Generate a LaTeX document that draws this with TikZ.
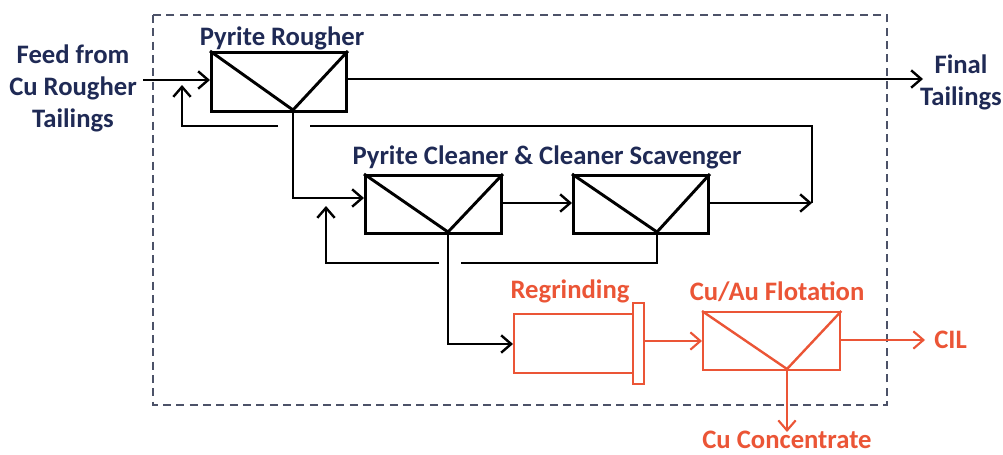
\documentclass[tikz,border=0pt]{standalone}
\usepackage{fontspec}
\setmainfont{Carlito}
\usetikzlibrary{arrows.meta,calc}
\definecolor{navy}{HTML}{1F2A55}
\definecolor{flot}{HTML}{EB5536}
\definecolor{frame}{HTML}{4C5268}
\tikzset{
  cell/.style={draw, rectangle, line width=2.2pt, inner sep=0pt},
  flow/.style={line width=2.2pt, -{Straight Barb[length=7.5pt,width=13pt,line width=1.8pt]}},
  pipe/.style={line width=2.2pt},
  lbl/.style={font=\bfseries\fontsize{20}{24}\selectfont, text=navy, inner sep=0pt},
  olbl/.style={font=\bfseries\fontsize{20}{24}\selectfont, text=flot, inner sep=0pt},
  ocell/.style={draw=flot, line width=1.8pt, rectangle, inner sep=0pt},
  oflow/.style={flot, line width=1.8pt, -{Straight Barb[length=7.5pt,width=13pt,line width=1.6pt]}},
}
\begin{document}
\begin{tikzpicture}[x=0.75pt,y=-0.75pt]
\useasboundingbox (0,0) rectangle (1003,454);

% boundary of the pyrite circuit
\draw[frame, line width=1.7pt, dash pattern=on 6pt off 4pt] (153,15) rectangle (887,405);

% flotation cells: rectangle with a V to the concentrate outlet
\node[cell, minimum width=101.25pt, minimum height=44.25pt, anchor=north west] (rough) at (210,51) {};
\node[cell, minimum width=102pt, minimum height=43.5pt, anchor=north west] (clean) at (364,174) {};
\node[cell, minimum width=101.25pt, minimum height=43.5pt, anchor=north west] (scav) at (572,174) {};
\coordinate (ra) at (293,110);
\coordinate (ca) at (448,232);
\coordinate (sa) at (657,232);
\foreach \c/\a in {rough/ra, clean/ca, scav/sa}{
  \draw[pipe, line join=miter] (\c.north west) -- (\a) -- (\c.north east);
}

% regrind mill and copper/gold flotation
\node[ocell, minimum width=89.25pt, minimum height=44.25pt, anchor=north west] (mill) at (513,313) {};
\node[ocell, minimum width=8.25pt, minimum height=60.75pt, anchor=north west] (cap) at (632,302) {};
\node[ocell, minimum width=102.75pt, minimum height=43.5pt, anchor=north west] (flot) at (702,311) {};
\coordinate (fa) at (787,369);
\draw[flot, line width=1.8pt] (flot.north west) -- (fa) -- (flot.north east);

% labels
\node[lbl] (lrough) at (282,38) {Pyrite Rougher};
\node[lbl] (lclean) at (547,157) {Pyrite Cleaner \& Cleaner Scavenger};
\node[lbl, align=center] (feed) at (73,88) {Feed from\\Cu Rougher\\Tailings};
\node[lbl, align=center] (tails) at (961,82) {Final\\Tailings};
\node[olbl] (lmill) at (570,291) {Regrinding};
\node[olbl] (lflot) at (777,292) {Cu/Au Flotation};
\node[olbl, anchor=west] (cil) at (934,340) {CIL};
\node[olbl] (conc) at (787,440) {Cu Concentrate};

% connector end points
\coordinate (feedout) at (143,80);
\coordinate (tailsend) at (923,79);
\coordinate (cilend) at (925,340);
\coordinate (concend) at (787,432);

% rougher
\draw[flow] (feedout) -- (feedout -| rough.west);
\draw[flow] (rough.east |- tailsend) -- (tailsend);
\draw[flow] (ra) -- (293,198) -- (clean.west |- 0,198);
% scavenger tailings back to rougher feed
\draw[flow] (scav.east |- 0,203) -- (812,203);
\draw[pipe] (812,203) -- (812,126) -- (310,126);
\draw[flow] (278,126) -- (182,126) -- (182,85);
% cleaner tailings to scavenger
\draw[flow] (clean.east |- 0,203) -- (scav.west |- 0,203);
% scavenger concentrate back to cleaner feed
\draw[pipe] (sa) -- (657,263) -- (461,263);
\draw[flow] (439,263) -- (326,263) -- (326,206);
% cleaner concentrate to regrinding
\draw[flow] (ca) -- (448,344) -- (mill.west |- 0,344);

% copper/gold circuit
\draw[oflow] (cap.east |- 0,341) -- (flot.west |- 0,341);
\draw[oflow] (flot.east |- 0,340) -- (cilend);
\draw[oflow] (fa) -- (concend);
\end{tikzpicture}
\end{document}
